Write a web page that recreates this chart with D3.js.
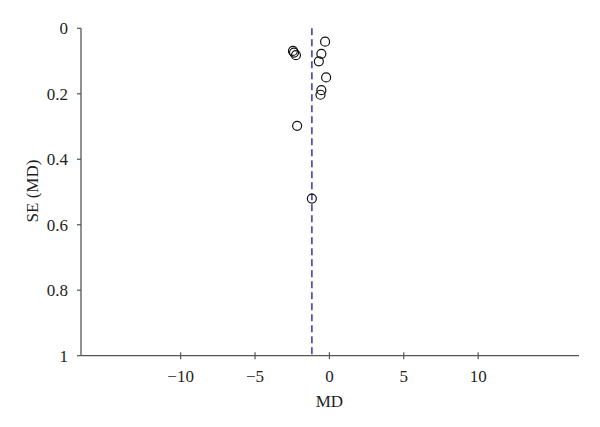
<!DOCTYPE html>
<html>
<head>
<meta charset="utf-8">
<script src="https://cdn.jsdelivr.net/npm/d3@7"></script>
<style>
body{margin:0;background:#fff;}
svg{display:block;}
</style>
</head>
<body>
<svg id="chart" width="600" height="427"></svg>
<script>
const md = [-0.29, -2.45, -2.38, -2.25, -0.54, -0.71, -0.22, -0.54, -0.60, -2.17, -1.18];
const se = [0.041, 0.069, 0.074, 0.082, 0.078, 0.101, 0.150, 0.189, 0.203, 0.298, 0.520];
const pooledMD = -1.18;
const xTicks = [-10, -5, 0, 5, 10];
const yTicks = [0, 0.2, 0.4, 0.6, 0.8, 1];
const xLabel = "MD";
const yLabel = "SE (MD)";

(function () {
const svg = d3.select("#chart");
const mLeft = 81, mRight = 579, mTop = 28.3, mBottom = 355.7;
const x = d3.scaleLinear().domain([-16.7, 16.78]).range([mLeft, mRight]);
const y = d3.scaleLinear().domain([0, 1]).range([mTop, mBottom]);
const font = "'Liberation Serif', 'Times New Roman', serif";
const fs = 17;
const axisColor = "#555";
const textColor = "#1e1e1e";

svg.append("line").attr("x1", mLeft).attr("x2", mLeft).attr("y1", mTop).attr("y2", mBottom)
  .attr("stroke", axisColor).attr("stroke-width", 1.3);
svg.append("line").attr("x1", mLeft).attr("x2", mRight).attr("y1", mBottom).attr("y2", mBottom)
  .attr("stroke", axisColor).attr("stroke-width", 1.3);

const yg = svg.append("g");
yTicks.forEach(t => {
  yg.append("line").attr("x1", mLeft - 4).attr("x2", mLeft).attr("y1", y(t)).attr("y2", y(t))
    .attr("stroke", axisColor).attr("stroke-width", 1.2);
  yg.append("text").attr("x", mLeft - 13).attr("y", y(t)).attr("dy", "0.35em")
    .attr("text-anchor", "end").attr("font-family", font).attr("font-size", fs)
    .attr("fill", textColor).text(d3.format("~g")(t));
});

const xg = svg.append("g");
xTicks.forEach(t => {
  xg.append("line").attr("x1", x(t)).attr("x2", x(t)).attr("y1", mBottom - 3.5).attr("y2", mBottom + 3.5)
    .attr("stroke", axisColor).attr("stroke-width", 1.2);
  xg.append("text").attr("x", x(t)).attr("y", mBottom + 26.5)
    .attr("text-anchor", "middle").attr("font-family", font).attr("font-size", fs)
    .attr("fill", textColor).text(t < 0 ? "\u2212" + Math.abs(t) : String(t));
});

svg.append("text").attr("x", x(0)).attr("y", 407).attr("text-anchor", "middle")
  .attr("font-family", font).attr("font-size", fs).attr("fill", textColor).text(xLabel);
svg.append("text").attr("transform", "translate(38,191) rotate(-90)")
  .attr("text-anchor", "middle").attr("font-family", font).attr("font-size", fs)
  .attr("fill", textColor).text(yLabel);

svg.append("line").attr("x1", x(pooledMD)).attr("x2", x(pooledMD))
  .attr("y1", y(0)).attr("y2", y(1))
  .attr("stroke", "#5b4fb0").attr("stroke-width", 1.8).attr("stroke-dasharray", "7,4");

svg.append("g").selectAll("circle").data(md.map((d, i) => ({md: d, se: se[i]})))
  .join("circle")
  .attr("cx", d => x(d.md)).attr("cy", d => y(d.se)).attr("r", 4.5)
  .attr("fill", "none").attr("stroke", "#111").attr("stroke-width", 1.2);
})();
</script>
</body>
</html>
